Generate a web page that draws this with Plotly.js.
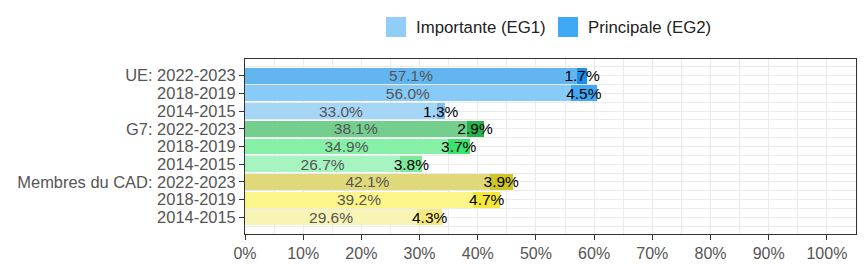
<!DOCTYPE html>
<html>
<head>
<meta charset="utf-8">
<script src="https://cdn.plot.ly/plotly-3.0.1.min.js"></script>
<style>html,body{margin:0;padding:0;background:#fff}#chart{width:864px;height:264px}</style>
</head>
<body>
<div id="chart"></div>
<script>
'use strict';

// Rows, top to bottom
const rowLabels = ['UE: 2022-2023', '2018-2019', '2014-2015',
                   'G7: 2022-2023', '2018-2019', '2014-2015',
                   'Membres du CAD: 2022-2023', '2018-2019', '2014-2015'];
const importante = [57.1, 56.0, 33.0, 38.1, 34.9, 26.7, 42.1, 39.2, 29.6];
const principale = [1.7, 4.5, 1.3, 2.9, 3.7, 3.8, 3.9, 4.7, 4.3];
const seriesNames = ['Importante (EG1)', 'Principale (EG2)'];
const legendColors = ['#90cdf9', '#3fa9f5'];

const impColors = ['#63b5f0', '#88caf8', '#a6d6f7', '#74cf8f', '#86f0a6', '#a6f5c0', '#dfd97a', '#fbf58a', '#f8f4b3'];
const prinColors = ['#1a8fe8', '#3fa9f5', '#7cc1f3', '#28b34e', '#3be26e', '#7be89a', '#cfc428', '#f5e83a', '#f5ea80'];

const ys = rowLabels.map((_, i) => i);
const fmt = v => v.toFixed(1) + '%';

const traces = [
    { type: 'bar', orientation: 'h', y: ys, x: importante, width: 0.89, name: seriesNames[0],
      marker: { color: impColors }, text: importante.map(fmt), textposition: 'inside',
      insidetextanchor: 'middle', constraintext: 'none', textangle: 0,
      textfont: { color: '#555', size: 15.5 }, hoverinfo: 'x' },
    { type: 'bar', orientation: 'h', y: ys, x: principale, width: 0.89, name: seriesNames[1],
      marker: { color: prinColors }, text: principale.map(fmt), textposition: 'inside',
      insidetextanchor: 'middle', constraintext: 'none', textangle: 0, cliponaxis: false,
      textfont: { color: '#000', size: 15.5 }, hoverinfo: 'x' }
];

// custom legend above the plot (bigger swatches than plotly's own)
const legX = [0.2308, 0.5123], swW = 0.0327, legY0 = 1.1257, legY1 = 1.24;
const shapes = legX.map((x, i) => ({
    type: 'rect', xref: 'paper', yref: 'paper', x0: x, x1: x + swW, y0: legY0, y1: legY1,
    fillcolor: legendColors[i], line: { width: 0 }
}));
const annotations = legX.map((x, i) => ({
    xref: 'paper', yref: 'paper', x: x + swW + 0.013, y: (legY0 + legY1) / 2,
    xanchor: 'left', yanchor: 'middle', showarrow: false, text: seriesNames[i],
    font: { size: 16.8, color: '#222' }
}));

const layout = {
    width: 864, height: 264,
    margin: { l: 245, r: 8, t: 59, b: 30 },
    barmode: 'stack',
    font: { family: 'Liberation Sans, Arial, sans-serif', color: '#444', size: 16 },
    paper_bgcolor: '#fff', plot_bgcolor: '#fff',
    showlegend: false,
    shapes, annotations,
    xaxis: { range: [0, 105], dtick: 10, ticksuffix: '%', showgrid: true, gridcolor: '#ebebeb',
             minor: { dtick: 5, showgrid: true, gridcolor: '#ebebeb' },
             showline: true, mirror: true, linecolor: '#333', ticks: 'outside', ticklen: 5, tickcolor: '#333',
             zeroline: false, tickfont: { size: 16, color: '#555' }, fixedrange: true },
    yaxis: { range: [8.94, -0.94], tickvals: ys, ticktext: rowLabels, showgrid: true, gridcolor: '#ebebeb',
             minor: { dtick: 0.5, tick0: 0.5, showgrid: true, gridcolor: '#ebebeb' },
             showline: true, mirror: true, linecolor: '#333', ticks: 'outside', ticklen: 5, tickcolor: '#333',
             zeroline: false, tickfont: { size: 16.45, color: '#555' }, fixedrange: true }
};

Plotly.newPlot('chart', traces, layout, { displayModeBar: false, staticPlot: true });
</script>
</body>
</html>
